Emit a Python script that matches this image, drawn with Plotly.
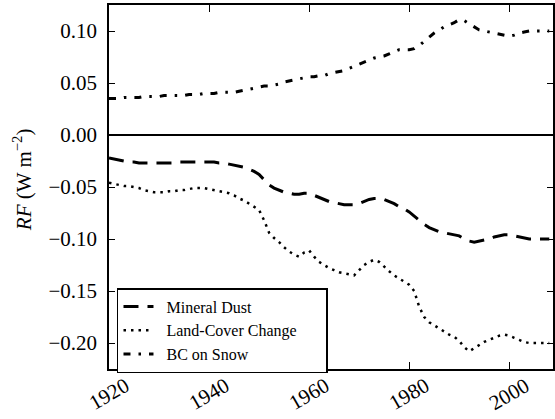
import plotly.graph_objects as go

years = list(range(1920, 2009))

mineral_dust = [
    -0.022, -0.023, -0.024, -0.025, -0.026, -0.026, -0.027, -0.027, -0.027, -0.027,
    -0.027, -0.027, -0.027, -0.027, -0.026, -0.026, -0.026, -0.026, -0.026, -0.026,
    -0.026, -0.026, -0.027, -0.027, -0.028, -0.029, -0.030, -0.031, -0.033, -0.035,
    -0.038, -0.043, -0.048, -0.051, -0.053, -0.055, -0.056, -0.057, -0.057, -0.056,
    -0.056, -0.058, -0.060, -0.062, -0.064, -0.065, -0.066, -0.067, -0.067, -0.067,
    -0.066, -0.064, -0.062, -0.061, -0.061, -0.062, -0.064, -0.066, -0.069, -0.071,
    -0.074, -0.078, -0.082, -0.086, -0.089, -0.091, -0.093, -0.094, -0.095, -0.096,
    -0.097, -0.100, -0.102, -0.103, -0.102, -0.101, -0.100, -0.098, -0.097, -0.096,
    -0.096, -0.097, -0.098, -0.099, -0.100, -0.100, -0.100, -0.100, -0.100,
]

land_cover = [
    -0.046, -0.047, -0.048, -0.049, -0.049, -0.050, -0.051, -0.053, -0.054, -0.055,
    -0.055, -0.055, -0.054, -0.054, -0.053, -0.053, -0.052, -0.051, -0.051, -0.051,
    -0.052, -0.053, -0.054, -0.055, -0.056, -0.058, -0.061, -0.063, -0.066, -0.069,
    -0.072, -0.082, -0.094, -0.099, -0.103, -0.108, -0.112, -0.115, -0.117, -0.113,
    -0.111, -0.117, -0.122, -0.125, -0.128, -0.130, -0.132, -0.133, -0.134, -0.135,
    -0.130, -0.125, -0.122, -0.120, -0.122, -0.127, -0.131, -0.135, -0.138, -0.141,
    -0.144, -0.150, -0.165, -0.175, -0.180, -0.183, -0.186, -0.189, -0.192, -0.194,
    -0.198, -0.204, -0.208, -0.205, -0.202, -0.199, -0.197, -0.195, -0.193, -0.192,
    -0.193, -0.195, -0.197, -0.199, -0.200, -0.200, -0.200, -0.200, -0.200,
]

bc_on_snow = [
    0.035, 0.035, 0.035, 0.036, 0.036, 0.036, 0.036, 0.037, 0.037, 0.037,
    0.037, 0.038, 0.038, 0.038, 0.038, 0.038, 0.039, 0.039, 0.039, 0.040,
    0.040, 0.040, 0.041, 0.041, 0.041, 0.041, 0.042, 0.043, 0.044, 0.045,
    0.046, 0.047, 0.047, 0.048, 0.049, 0.051, 0.052, 0.053, 0.054, 0.055,
    0.056, 0.056, 0.057, 0.057, 0.059, 0.060, 0.061, 0.062, 0.064, 0.066,
    0.068, 0.070, 0.072, 0.074, 0.075, 0.076, 0.078, 0.080, 0.082, 0.082,
    0.082, 0.083, 0.086, 0.090, 0.094, 0.098, 0.101, 0.104, 0.106, 0.108,
    0.111, 0.110, 0.107, 0.104, 0.101, 0.100, 0.099, 0.098, 0.097, 0.096,
    0.095, 0.096, 0.098, 0.099, 0.100, 0.100, 0.100, 0.100, 0.100,
]

series_names = ["Mineral Dust", "Land-Cover Change", "BC on Snow"]
x_ticks = [1920, 1940, 1960, 1980, 2000]
x_tick_labels = ["1920", "1940", "1960", "1980", "2000"]
y_ticks = [-0.20, -0.15, -0.10, -0.05, 0.00, 0.05, 0.10]
y_tick_labels = ["\u22120.20", "\u22120.15", "\u22120.10", "\u22120.05", "0.00", "0.05", "0.10"]

FONT = "Liberation Serif"
NB = "\u00a0"


def legend_name(s):
    # small lead-in and tail padding so the legend box spans like the original
    return NB * 2 + s + NB * 6


fig = go.Figure()
fig.add_trace(go.Scatter(x=years, y=mineral_dust, mode="lines", name=legend_name(series_names[0]),
                         line=dict(color="black", width=3, dash="15px,9px")))
fig.add_trace(go.Scatter(x=years, y=land_cover, mode="lines", name=legend_name(series_names[1]),
                         line=dict(color="black", width=2.5, dash="2.5px,5px")))
fig.add_trace(go.Scatter(x=years, y=bc_on_snow, mode="lines", name=legend_name(series_names[2]),
                         line=dict(color="black", width=3, dash="7px,8px,2.5px,8px")))

for xv, lab in zip(x_ticks, x_tick_labels):
    fig.add_annotation(x=xv, y=-0.068, xref="x", yref="paper", text=lab, showarrow=False,
                       textangle=-30, xanchor="center", yanchor="middle",
                       font=dict(family=FONT, size=21, color="black"))

fig.add_annotation(x=-0.195, y=0.52, xref="paper", yref="paper",
                   text="<i>RF</i> (W m<sup>\u22122</sup>)", showarrow=False,
                   textangle=-90, xanchor="center", yanchor="middle",
                   font=dict(family=FONT, size=21, color="black"))

fig.update_layout(
    width=555, height=419,
    margin=dict(l=109, r=0, t=5, b=50),
    paper_bgcolor="white", plot_bgcolor="white",
    font=dict(family=FONT, color="black"),
    showlegend=True,
    legend=dict(x=0.018, y=0.2225, xanchor="left", yanchor="top",
                bgcolor="white", bordercolor="black", borderwidth=1.5,
                font=dict(family=FONT, size=16, color="black")),
    xaxis=dict(range=[1920, 2008.75], tickvals=x_ticks, showticklabels=False,
               ticks="inside", ticklen=7, tickwidth=1, tickcolor="black",
               showline=True, linecolor="black", linewidth=1.5, mirror="ticks",
               showgrid=False, zeroline=False),
    yaxis=dict(range=[-0.225, 0.125], tickvals=y_ticks, ticktext=y_tick_labels,
               ticks="inside", ticklen=6, tickwidth=1, tickcolor="black",
               showline=True, linecolor="black", linewidth=1.5, mirror="ticks",
               showgrid=False, zeroline=True, zerolinecolor="black", zerolinewidth=1.5,
               tickfont=dict(family=FONT, size=21, color="black"),
               ticklabelstandoff=6),
)

fig.write_html("out.html", config={"displayModeBar": False},
               post_script="document.body.style.margin='0';document.body.style.padding='0';")
